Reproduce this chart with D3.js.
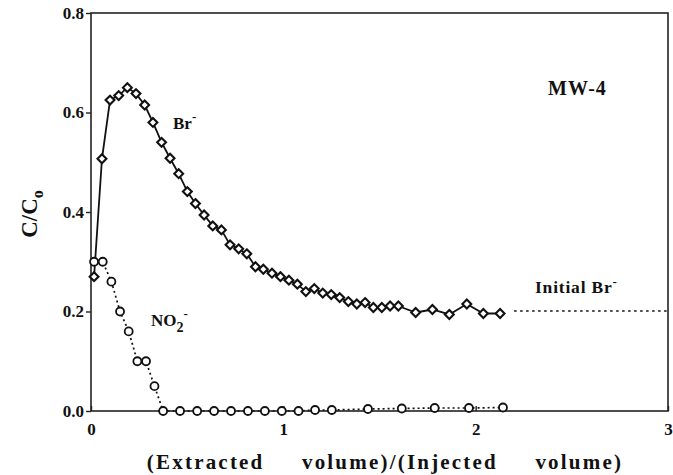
<!DOCTYPE html>
<html>
<head>
<meta charset="utf-8">
<script src="https://cdn.jsdelivr.net/npm/d3@7"></script>
<style>
  html, body { margin: 0; padding: 0; background: #fff; }
  svg { display: block; }
  text { font-family: "Liberation Serif", "DejaVu Serif", serif; font-weight: bold; fill: #111; }
</style>
</head>
<body>
<svg id="chart" width="673" height="475"></svg>
<script>
// Bromide breakthrough (C/C0) vs. extracted/injected volume
const brX = [0.016, 0.057, 0.099, 0.144, 0.189, 0.234, 0.279, 0.322, 0.367, 0.411, 0.456, 0.501,
  0.543, 0.588, 0.633, 0.678, 0.723, 0.768, 0.810, 0.855, 0.896, 0.941, 0.985, 1.029, 1.073,
  1.117, 1.161, 1.205, 1.249, 1.293, 1.338, 1.382, 1.425, 1.468, 1.512, 1.555, 1.598, 1.688,
  1.775, 1.863, 1.954, 2.040, 2.127];
const brY = [0.270, 0.507, 0.625, 0.634, 0.650, 0.638, 0.615, 0.580, 0.540, 0.508, 0.477, 0.441,
  0.417, 0.394, 0.372, 0.364, 0.334, 0.326, 0.316, 0.290, 0.285, 0.277, 0.270, 0.263, 0.255,
  0.240, 0.246, 0.237, 0.234, 0.228, 0.220, 0.215, 0.218, 0.208, 0.208, 0.211, 0.211, 0.198,
  0.204, 0.194, 0.215, 0.196, 0.196];

// Nitrite (C/C0)
const no2X = [0.016, 0.061, 0.106, 0.151, 0.196, 0.241, 0.286, 0.330, 0.375, 0.463, 0.552, 0.640,
  0.728, 0.816, 0.904, 0.992, 1.079, 1.165, 1.252, 1.440, 1.616, 1.787, 1.965, 2.142];
const no2Y = [0.300, 0.300, 0.260, 0.200, 0.160, 0.100, 0.100, 0.050, 0, 0, 0, 0,
  0, 0, 0, 0, 0, 0.002, 0.002, 0.004, 0.005, 0.006, 0.006, 0.007];

// Initial bromide level
const initBrX = [2.20, 3.0];
const initBrY = [0.201, 0.201];

const xTicks = [0, 1, 2, 3];
const xTickLabels = ["0", "1", "2", "3"];
const yTicks = [0, 0.2, 0.4, 0.6, 0.8];
const yTickLabels = ["0.0", "0.2", "0.4", "0.6", "0.8"];

const svg = d3.select("#chart");
const m = { left: 91, right: 668, top: 13, bottom: 411 };

const x = d3.scaleLinear().domain([0, 3]).range([m.left, m.right]);
const y = d3.scaleLinear().domain([0, 0.8]).range([m.bottom, m.top]);

// frame
svg.append("rect")
  .attr("x", m.left).attr("y", m.top)
  .attr("width", m.right - m.left).attr("height", m.bottom - m.top)
  .attr("fill", "none").attr("stroke", "#222").attr("stroke-width", 1.6);

// x axis (ticks point inward)
const xAxis = d3.axisBottom(x).tickValues(xTicks)
  .tickFormat((d, i) => xTickLabels[i]).tickSizeInner(-5).tickSizeOuter(0).tickPadding(12);
const gx = svg.append("g").attr("transform", `translate(0,${m.bottom})`).call(xAxis);
gx.select(".domain").remove();
gx.selectAll("line").attr("stroke", "#222").attr("stroke-width", 1.4);
gx.selectAll("text").attr("font-size", 17).attr("fill", "#111")
  .attr("font-family", "Liberation Serif, DejaVu Serif, serif").attr("font-weight", "bold");

// y axis (ticks point outward)
const yAxis = d3.axisLeft(y).tickValues(yTicks)
  .tickFormat((d, i) => yTickLabels[i]).tickSizeInner(5).tickSizeOuter(0).tickPadding(2);
const gy = svg.append("g").attr("transform", `translate(${m.left},0)`).call(yAxis);
gy.select(".domain").remove();
gy.selectAll("line").attr("stroke", "#222").attr("stroke-width", 1.4);
gy.selectAll("text").attr("font-size", 17).attr("fill", "#111")
  .attr("font-family", "Liberation Serif, DejaVu Serif, serif").attr("font-weight", "bold");

const brData = brX.map((v, i) => [v, brY[i]]);
const no2Data = no2X.map((v, i) => [v, no2Y[i]]);
const initData = initBrX.map((v, i) => [v, initBrY[i]]);

const line = d3.line().x(d => x(d[0])).y(d => y(d[1]));

// initial Br- reference (dotted)
svg.append("path").datum(initData).attr("d", line)
  .attr("fill", "none").attr("stroke", "#111").attr("stroke-width", 1.7)
  .attr("stroke-dasharray", "2.5,3.5");

// NO2- curve (dotted)
svg.append("path").datum(no2Data).attr("d", line)
  .attr("fill", "none").attr("stroke", "#111").attr("stroke-width", 1.7)
  .attr("stroke-dasharray", "2,3");

// Br- curve (solid)
svg.append("path").datum(brData).attr("d", line)
  .attr("fill", "none").attr("stroke", "#111").attr("stroke-width", 1.8);

// NO2- markers: open circles
svg.append("g").selectAll("circle").data(no2Data).join("circle")
  .attr("cx", d => x(d[0])).attr("cy", d => y(d[1])).attr("r", 4)
  .attr("fill", "#fff").attr("stroke", "#111").attr("stroke-width", 1.8);

// Br- markers: open diamonds
const diamond = d3.symbol().type(d3.symbolDiamond2).size(50);
svg.append("g").selectAll("path").data(brData).join("path")
  .attr("transform", d => `translate(${x(d[0])},${y(d[1])})`)
  .attr("d", diamond)
  .attr("fill", "#fff").attr("stroke", "#111").attr("stroke-width", 2.1);

// labels
svg.append("text").attr("x", 548).attr("y", 95).attr("font-size", 20)
  .attr("letter-spacing", 1).text("MW-4");

const brLabel = svg.append("text").attr("x", 173).attr("y", 129).attr("font-size", 17);
brLabel.append("tspan").text("Br");
brLabel.append("tspan").attr("dy", -8).attr("font-size", 13).text("-");

const no2Label = svg.append("text").attr("x", 151).attr("y", 326).attr("font-size", 17);
no2Label.append("tspan").text("NO");
no2Label.append("tspan").attr("dy", 6).attr("font-size", 14).text("2");
no2Label.append("tspan").attr("dy", -14).attr("font-size", 13).text("-");

const initLabel = svg.append("text").attr("x", 535).attr("y", 293)
  .attr("font-size", 17.5).attr("letter-spacing", 0.8);
initLabel.append("tspan").text("Initial Br");
initLabel.append("tspan").attr("dy", -7).attr("font-size", 13).text("-");

// axis titles
svg.append("text").attr("x", 385).attr("y", 469).attr("text-anchor", "middle")
  .attr("font-size", 21).attr("letter-spacing", 2.2).attr("word-spacing", 30)
  .text("(Extracted volume)/(Injected volume)");

const yTitle = svg.append("text")
  .attr("transform", "translate(37,214) rotate(-90)")
  .attr("text-anchor", "middle").attr("font-size", 23);
yTitle.append("tspan").text("C/C");
yTitle.append("tspan").attr("dy", 6).attr("font-size", 16).text("o");
</script>
</body>
</html>
